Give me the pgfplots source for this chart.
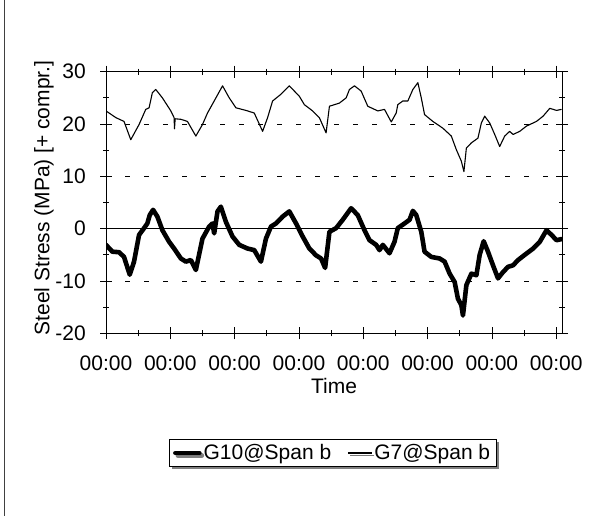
\documentclass[border=0pt]{standalone}
\usepackage{fontspec}
\setmainfont{Liberation Sans}
\usepackage{pgfplots}
\pgfplotsset{compat=1.18}
\usetikzlibrary{shadows}
\begin{document}
\fontsize{21}{25}\selectfont
\begin{tikzpicture}[x=1pt,y=1pt]
\useasboundingbox (0,0) rectangle (589,516);
\draw[line width=1.2pt, black!75] (4.5,0) -- (4.5,516);
\begin{axis}[
  at={(106pt,182.7pt)}, anchor=south west,
  scale only axis, width=456pt, height=261.6pt,
  xmin=0, xmax=7.09, ymin=-20, ymax=30,
  xtick={0,1,2,3,4,5,6,7},
  xticklabels={00:00,00:00,00:00,00:00,00:00,00:00,00:00,00:00},
  minor x tick num=1,
  ytick={-20,-10,0,10,20,30}, minor y tick num=1,
  /pgf/number format/assume math mode=true,
  tick align=center, major tick length=12pt, minor tick length=6pt,
  tick style={black, line width=0.8pt},
  axis line style={black, line width=0.9pt},
  ymajorgrids,
  major grid style={black, line width=0.8pt, dash pattern=on 5pt off 14pt},
  extra y ticks={0}, extra y tick labels={},
  extra y tick style={grid=major, major grid style={black, solid, line width=0.9pt}, major tick length=0pt},
  tick label style={font=\fontsize{21}{25}\selectfont},
  xticklabel style={yshift=-9pt},
  yticklabel style={xshift=-7pt},
  xlabel={Time},
  ylabel={Steel Stress (MPa) [+ compr.]},
  label style={font=\fontsize{21}{25}\selectfont},
  xlabel style={at={(axis description cs:0.5,-0.200)}, anchor=center},
  ylabel style={at={(axis description cs:-0.136,0.517)}, anchor=center},
  legend columns=2,
  legend image code/.code={\draw[#1] (0pt,0pt) -- (24pt,0pt);},
  legend style={at={(axis description cs:0.497,-0.4576)}, anchor=center,
    draw=black, line width=0.9pt, fill=white,
    drop shadow={shadow xshift=2.5pt, shadow yshift=-2.5pt, fill=black},
    font=\fontsize{21}{25}\selectfont,
    inner xsep=4pt, inner ysep=1pt,
    nodes={inner xsep=2pt, inner ysep=3pt},
    /tikz/every even column/.append style={column sep=14pt}},
]
\addplot[black, line width=4.6pt, line join=round, line cap=round] coordinates {
(0,-3.1) (0.099,-4.4) (0.203,-4.5) (0.280,-5.4) (0.369,-8.8) (0.436,-6.3)
(0.514,-1.2) (0.592,0.1) (0.643,1.0) (0.680,2.6) (0.732,3.6) (0.799,2.3)
(0.877,-0.3) (0.981,-2.5) (1.059,-3.8) (1.164,-5.7) (1.241,-6.3) (1.319,-6.0)
(1.397,-7.9) (1.500,-1.9) (1.604,0.4) (1.656,1.0) (1.682,-0.9) (1.734,3.3)
(1.786,4.2) (1.864,1.3) (1.967,-1.5) (2.072,-3.1) (2.201,-3.8) (2.305,-4.1)
(2.409,-6.3) (2.487,-1.9) (2.565,0.4) (2.643,1.0) (2.746,2.3) (2.850,3.3)
(2.955,1.0) (3.058,-1.5) (3.162,-3.8) (3.266,-5.1) (3.344,-5.7) (3.407,-7.5)
(3.474,-0.6) (3.578,0.1) (3.681,1.7) (3.811,3.9) (3.914,2.6) (4.019,-0.3)
(4.097,-2.2) (4.201,-3.1) (4.252,-4.1) (4.304,-3.1) (4.408,-4.7) (4.486,-2.5)
(4.537,0.1) (4.642,1.0) (4.720,1.7) (4.771,3.4) (4.824,2.6) (4.902,-0.6)
(4.953,-4.4) (5.058,-5.4) (5.187,-5.7) (5.265,-6.3) (5.343,-8.6) (5.421,-10.2)
(5.472,-13.4) (5.525,-14.6) (5.550,-16.6) (5.603,-10.8) (5.681,-8.6) (5.759,-8.9)
(5.810,-5.0) (5.872,-2.4) (5.939,-4.4) (6.017,-7.0) (6.095,-9.5) (6.173,-8.3)
(6.251,-7.3) (6.329,-7.0) (6.407,-6.0) (6.511,-5.0) (6.641,-3.8) (6.745,-2.5)
(6.849,-0.3) (6.927,-1.2) (7.005,-2.2) (7.083,-2.0)
};
\addlegendentry{G10@Span b}
\addplot[black, line width=1.1pt, line join=round] coordinates {
(0,22.5) (0.156,21.2) (0.280,20.5) (0.385,17.0) (0.514,19.9) (0.618,22.8)
(0.670,23.1) (0.721,26.0) (0.774,26.6) (0.877,25.0) (1.008,22.5) (1.059,21.2)
(1.065,19.1) (1.075,21.0) (1.164,20.9) (1.266,20.5) (1.397,17.7) (1.500,19.9)
(1.578,22.1) (1.682,24.4) (1.812,27.3) (1.916,25.0) (2.020,23.1) (2.176,22.6)
(2.305,22.1) (2.435,18.6) (2.512,21.2) (2.590,24.4) (2.721,25.7) (2.850,27.3)
(3.006,25.3) (3.084,23.7) (3.213,22.5) (3.318,21.2) (3.422,18.3) (3.474,23.4)
(3.629,24.0) (3.734,25.0) (3.785,26.6) (3.863,27.3) (3.967,26.3) (4.070,23.4)
(4.226,22.5) (4.330,22.8) (4.435,20.4) (4.512,22.1) (4.537,23.7) (4.615,24.4)
(4.693,24.4) (4.771,26.6) (4.849,27.9) (4.902,25.0) (4.953,21.8) (5.082,20.5)
(5.238,19.2) (5.369,17.7) (5.447,15.1) (5.525,12.9) (5.565,10.9) (5.603,15.4)
(5.681,16.4) (5.783,17.3) (5.836,20.2) (5.888,21.5) (5.966,20.2) (6.044,18.0)
(6.121,15.7) (6.199,17.7) (6.277,18.6) (6.329,18.0) (6.433,18.6) (6.537,19.6)
(6.693,20.5) (6.796,21.5) (6.900,23.0) (7.005,22.6) (7.083,22.8)
};
\addlegendentry{G7@Span b}
\end{axis}
\end{tikzpicture}
\end{document}
